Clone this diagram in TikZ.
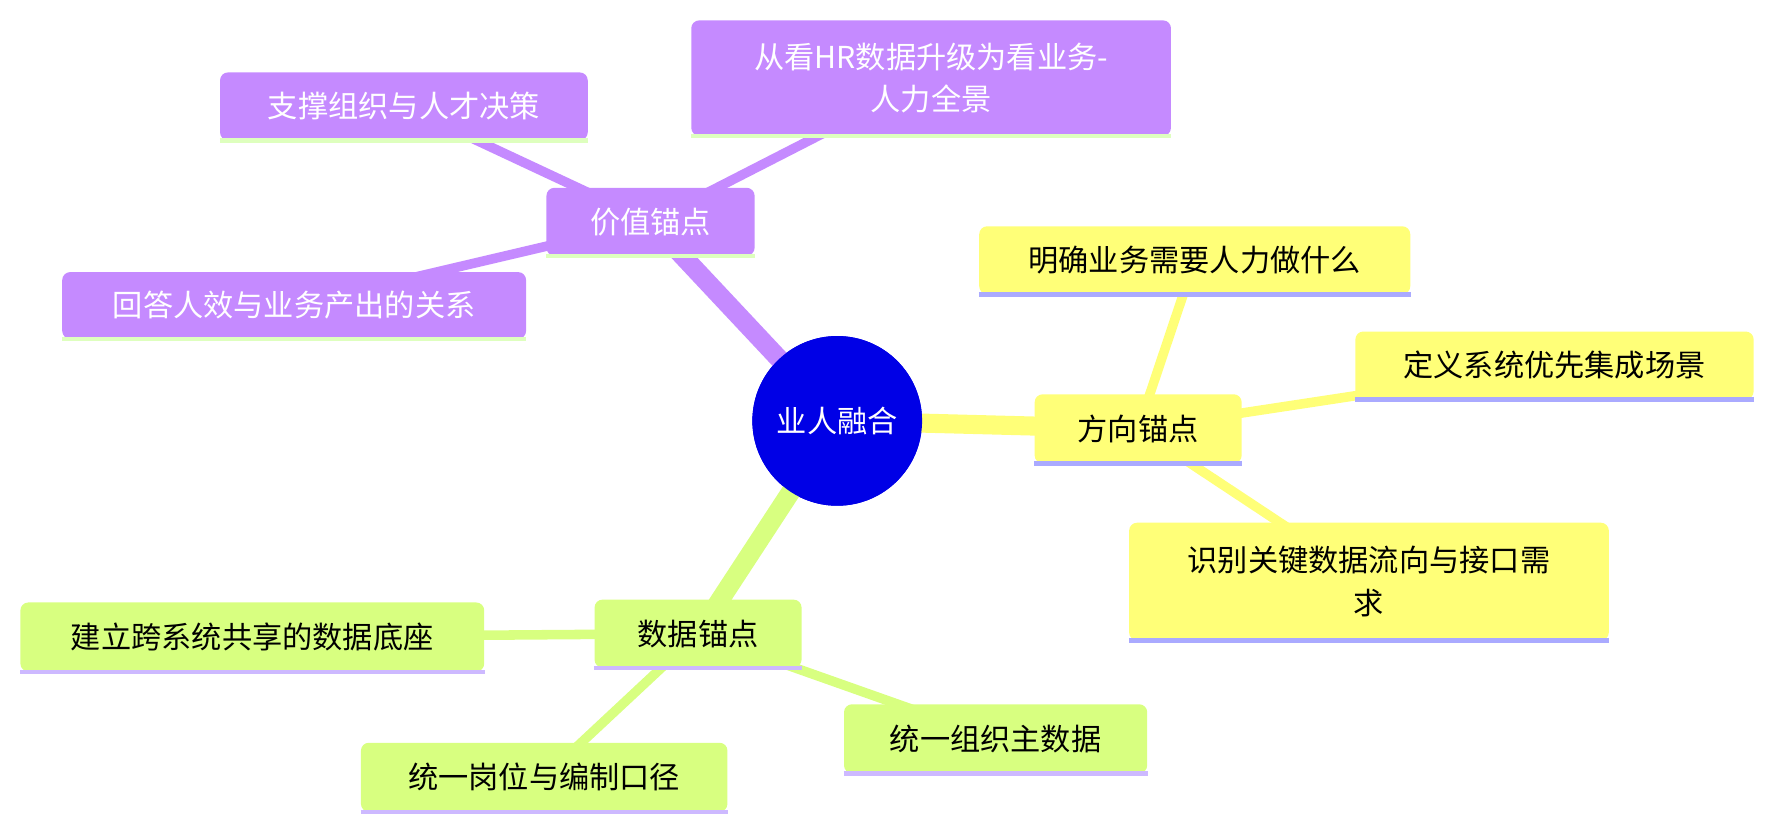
\documentclass[tikz,border=0pt]{standalone}
\usepackage{fontspec}
\setmainfont{Noto Sans CJK SC}
\definecolor{rootblue}{RGB}{0,0,230}
\definecolor{valpurple}{RGB}{197,138,255}
\definecolor{diryellow}{RGB}{255,255,120}
\definecolor{datagreen}{RGB}{216,255,128}
\definecolor{valline}{RGB}{222,255,190}
\definecolor{dirline}{RGB}{170,170,255}
\definecolor{dataline}{RGB}{205,185,255}
\tikzset{
  box/.style={rounded corners=5pt, inner sep=0pt, align=center, font=\fontsize{19}{27}\selectfont},
  valbox/.style={box, fill=valpurple, text=white},
  dirbox/.style={box, fill=diryellow, text=black},
  databox/.style={box, fill=datagreen, text=black},
  rootnode/.style={circle, fill=rootblue, text=white, minimum size=150*0.25mm, font=\fontsize{19}{27}\selectfont},
  trunk/.style={line width=12pt},
  twig/.style={line width=6pt},
}
\begin{document}
\begin{tikzpicture}[x=0.25mm,y=-0.25mm]
\useasboundingbox (0,0) rectangle (1568,733);
% nodes
\node[rootnode] (root) at (740,372) {};
\coordinate (val) at (575,196);
\coordinate (val1) at (357,94);
\coordinate (val2) at (823,69);
\coordinate (val3) at (260,270);
\coordinate (dir) at (1006,379);
\coordinate (dir1) at (1056,230);
\coordinate (dir2) at (1374,323);
\coordinate (dir3) at (1210,514);
\coordinate (dat) at (617,560);
\coordinate (dat1) at (223,563);
\coordinate (dat2) at (880,653);
\coordinate (dat3) at (481,687);
% connectors
\draw[trunk, valpurple] (root.center) -- (val);
\draw[trunk, diryellow] (root.center) -- (dir);
\draw[trunk, datagreen] (root.center) -- (dat);
\foreach \n in {val1,val2,val3} \draw[twig, valpurple] (val) -- (\n);
\foreach \n in {dir1,dir2,dir3} \draw[twig, diryellow] (dir) -- (\n);
\foreach \n in {dat1,dat2,dat3} \draw[twig, datagreen] (dat) -- (\n);
% boxes on top
\node[rootnode] at (root) {业人融合};
\foreach \n/\t/\w/\h in {val/价值锚点/184/60, val1/支撑组织与人才决策/325/60, val2/{从看HR数据升级为看业务-\\人力全景}/424/102, val3/回答人效与业务产出的关系/410/59}
  {\node[valbox, minimum width=\w*0.25mm, minimum height=\h*0.25mm] (\n box) at (\n) {\t};
   \draw[valline, line width=1mm] (\n box.south west) -- (\n box.south east);}
\foreach \n/\t/\w/\h in {dir/方向锚点/183/61, dir1/明确业务需要人力做什么/381/60, dir2/定义系统优先集成场景/352/60, dir3/{识别关键数据流向与接口需\\求}/424/104}
  {\node[dirbox, minimum width=\w*0.25mm, minimum height=\h*0.25mm] (\n box) at (\n) {\t};
   \draw[dirline, line width=1mm] (\n box.south west) -- (\n box.south east);}
\foreach \n/\t/\w/\h in {dat/数据锚点/183/60, dat1/建立跨系统共享的数据底座/410/61, dat2/统一组织主数据/268/61, dat3/统一岗位与编制口径/324/61}
  {\node[databox, minimum width=\w*0.25mm, minimum height=\h*0.25mm] (\n box) at (\n) {\t};
   \draw[dataline, line width=1mm] (\n box.south west) -- (\n box.south east);}
\end{tikzpicture}
\end{document}
